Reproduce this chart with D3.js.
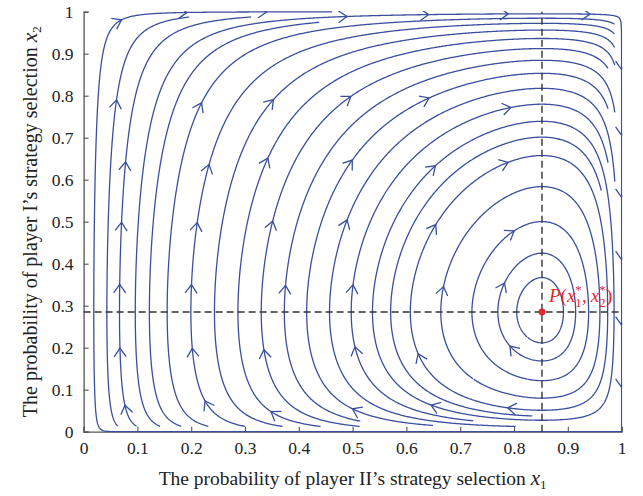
<!DOCTYPE html>
<html>
<head>
<meta charset="utf-8">
<script src="https://cdn.jsdelivr.net/npm/d3@7"></script>
<style>
  body { margin: 0; background: #fff; }
  svg { display: block; }
  .tick text { font-family: "Liberation Serif", "DejaVu Serif", serif; font-size: 17.5px; fill: #222; }
</style>
</head>
<body>
<svg id="chart" width="643" height="496"></svg>
<script>
// equilibrium point P(x1*, x2*) read from the dashed guides
var equilibrium = [0.852, 0.285];
// relative speed of the two strategy populations (x1, x2)
var rates = [0.5, 1.0];
var xTicks = [0, 0.1, 0.2, 0.3, 0.4, 0.5, 0.6, 0.7, 0.8, 0.9, 1];
var yTicks = [0, 0.1, 0.2, 0.3, 0.4, 0.5, 0.6, 0.7, 0.8, 0.9, 1];
// where the arrowheads sit: inner lattice, top edge, right edge
var arrowCols = [0.066, 0.21, 0.355, 0.5, 0.645, 0.79];
var arrowRows = [0.06, 0.2, 0.35, 0.5, 0.645, 0.79];
var topArrows = [0.06, 0.19, 0.34, 0.49, 0.64, 0.79, 0.94];
var rightArrows = [0.107, 0.254, 0.41, 0.556, 0.706, 0.861];
var seedCells = 20,   // streamline seed grid
	blockCells = 80;  // occupancy grid

var margin = {left: 83.6, top: 11.7, right: 21.4, bottom: 64.3},
	width = 643 - margin.left - margin.right,
	height = 496 - margin.top - margin.bottom;

var svg = d3.select("#chart");
var g = svg.append("g").attr("transform", "translate(" + margin.left + "," + margin.top + ")");

var x = d3.scaleLinear().domain([0, 1]).range([0, width]);
var y = d3.scaleLinear().domain([0, 1]).range([height, 0]);

svg.append("defs").append("clipPath").attr("id", "plotclip")
	.append("rect").attr("x", -0.7).attr("y", -0.7).attr("width", width + 1.4).attr("height", height + 1.4);

// replicator dynamics, direction only
function field(p) {
	var u = rates[0] * p[0] * (1 - p[0]) * (p[1] - equilibrium[1]),
		v = rates[1] * p[1] * (1 - p[1]) * (equilibrium[0] - p[0]);
	var m = Math.sqrt(u * u + v * v);
	if (m < 1e-300) return [0, 0];
	return [u / m, v / m];
}

function rk4(p, h) {
	var k1 = field(p);
	var k2 = field([p[0] + h / 2 * k1[0], p[1] + h / 2 * k1[1]]);
	var k3 = field([p[0] + h / 2 * k2[0], p[1] + h / 2 * k2[1]]);
	var k4 = field([p[0] + h * k3[0], p[1] + h * k3[1]]);
	return [p[0] + h / 6 * (k1[0] + 2 * k2[0] + 2 * k3[0] + k4[0]),
		p[1] + h / 6 * (k1[1] + 2 * k2[1] + 2 * k3[1] + k4[1])];
}

var startGrid = [], endGrid = [];
for (var i = 0; i < seedCells * seedCells; i++) startGrid.push(0);
for (var i = 0; i < blockCells * blockCells; i++) endGrid.push(0);

function cellOf(p, n) {
	var c = Math.min(n - 1, Math.floor(p[0] * n)),
		r = Math.min(n - 1, Math.floor(p[1] * n));
	return r * n + c;
}

var stepSize = 0.002, maxSteps = 4000;

function trace(seed, dir) {
	var pts = [seed], p = seed, prev = cellOf(seed, blockCells);
	for (var s = 0; s < maxSteps; s++) {
		p = rk4(p, dir * stepSize);
		if (p[0] < 0 || p[0] > 1 || p[1] < 0 || p[1] > 1 || isNaN(p[0])) break;
		var c = cellOf(p, blockCells);
		if (c != prev) {
			if (endGrid[c]) break;
			endGrid[c] = 1;
			prev = c;
		}
		startGrid[cellOf(p, seedCells)] = 1;
		pts.push(p);
	}
	return pts;
}

var streams = [];
for (var r = 0; r < seedCells; r++) {
	for (var c = 0; c < seedCells; c++) {
		if (startGrid[r * seedCells + c]) continue;
		startGrid[r * seedCells + c] = 1;
		var seed = [(c + 0.5) / seedCells, (r + 0.5) / seedCells];
		endGrid[cellOf(seed, blockCells)] = 1;
		var back = trace(seed, -1),
			fwd = trace(seed, 1);
		if (back.length + fwd.length < 4) continue;
		streams.push(back.slice().reverse().concat(fwd.slice(1)));
	}
}

var plot = g.append("g").attr("clip-path", "url(#plotclip)");
var blue = "#3a4f9e";

var line = d3.line().x(function(d) { return x(d[0]); }).y(function(d) { return y(d[1]); });

plot.selectAll("path.stream")
	.data(streams)
	.enter().append("path")
		.attr("class", "stream")
		.attr("fill", "none")
		.attr("stroke", blue)
		.attr("stroke-width", 1.3)
		.attr("d", line);

// snap each arrow spot onto the nearest streamline point
var targets = [];
arrowCols.forEach(function(cx) { arrowRows.forEach(function(cy) { targets.push([cx, cy]); }); });
topArrows.forEach(function(cx) { targets.push([cx, 1]); });
rightArrows.forEach(function(cy) { targets.push([1, cy]); });

var arrows = [];
targets.forEach(function(t) {
	var tx = x(t[0]), ty = y(t[1]), best = null, bd = Infinity;
	streams.forEach(function(s) {
		for (var k = 0; k < s.length; k += 2) {
			var d = Math.hypot(x(s[k][0]) - tx, y(s[k][1]) - ty);
			if (d < bd) { bd = d; best = s[k]; }
		}
	});
	if (best && bd < 22) arrows.push(best);
});

var arrowLen = 8.5, arrowHalf = 6;
plot.selectAll("path.arrow")
	.data(arrows)
	.enter().append("path")
		.attr("class", "arrow")
		.attr("fill", "none")
		.attr("stroke", blue)
		.attr("stroke-width", 1.3)
		.attr("d", function(p) {
			var f = field(p);
			var dx = f[0] * width, dy = -f[1] * height, m = Math.hypot(dx, dy);
			dx /= m; dy /= m;
			var tx = x(p[0]), ty = y(p[1]);
			var bx = tx - dx * arrowLen, by = ty - dy * arrowLen;
			return "M" + (bx - dy * arrowHalf) + "," + (by + dx * arrowHalf) +
				"L" + tx + "," + ty +
				"L" + (bx + dy * arrowHalf) + "," + (by - dx * arrowHalf);
		});

// axes
var xAxis = d3.axisBottom(x).tickValues(xTicks).tickFormat(d3.format("")).tickSize(-5).tickPadding(10);
var yAxis = d3.axisLeft(y).tickValues(yTicks).tickFormat(d3.format("")).tickSize(-5).tickPadding(10);

var gx = g.append("g").attr("transform", "translate(0," + height + ")").call(xAxis);
var gy = g.append("g").call(yAxis);
[gx, gy].forEach(function(a) {
	a.select(".domain").attr("stroke", "#555").attr("stroke-width", 1.3);
	a.selectAll(".tick line").attr("stroke", "#555").attr("stroke-width", 1.1);
});
gx.lower();
plot.raise();

// dashed guides through P
var guides = g.append("g").attr("stroke", "#333").attr("stroke-width", 1.4).attr("stroke-dasharray", "7,4");
guides.append("line")
	.attr("x1", x(0)).attr("x2", x(1))
	.attr("y1", y(equilibrium[1])).attr("y2", y(equilibrium[1]));
guides.append("line")
	.attr("x1", x(equilibrium[0])).attr("x2", x(equilibrium[0]))
	.attr("y1", y(0)).attr("y2", y(1));

var red = "#e8262b";
g.append("circle")
	.attr("cx", x(equilibrium[0])).attr("cy", y(equilibrium[1]))
	.attr("r", 3.4).attr("fill", red);

// label P(x1*, x2*) laid out piece by piece so sub/superscripts stack
var serif = "Liberation Serif, serif";
var lab = g.append("g").attr("fill", red).style("font-family", serif);
var cx = x(equilibrium[0]) + 7, base = y(equilibrium[1]) - 10;
function piece(txt, size, italic, dy) {
	var t = lab.append("text").attr("x", cx).attr("y", base + (dy || 0))
		.style("font-size", size + "px").style("font-style", italic ? "italic" : "normal").text(txt);
	return t.node().getComputedTextLength();
}
function stacked(sub) {
	var w1 = piece(sub, 12.5, false, 5), w2 = piece("*", 12.5, false, -8);
	cx += Math.max(w1, w2) + 0.5;
}
cx += piece("P", 19, true);
cx += piece("(", 19, false);
cx += piece("x", 19, true);
stacked("1");
cx += piece(",", 19, false) + 4;
cx += piece("x", 19, true);
stacked("2");
cx += piece(")", 19, false);

// axis titles
var xt = svg.append("text")
	.attr("x", margin.left + width / 2).attr("y", 485)
	.attr("text-anchor", "middle")
	.style("font-family", serif).style("font-size", "19.5px").attr("fill", "#222");
xt.append("tspan").text("The probability of player II\u2019s strategy selection ");
xt.append("tspan").style("font-style", "italic").style("font-size", "21px").text("x");
xt.append("tspan").attr("dy", 4).style("font-size", "13px").text("1");

var yt = svg.append("text")
	.attr("transform", "translate(37," + (margin.top + height / 2) + ") rotate(-90)")
	.attr("text-anchor", "middle")
	.style("font-family", serif).style("font-size", "20px").attr("fill", "#222");
yt.append("tspan").text("The probability of player I\u2019s strategy selection ");
yt.append("tspan").style("font-style", "italic").style("font-size", "21.5px").text("x");
yt.append("tspan").attr("dy", 4).style("font-size", "13px").text("2");
</script>
</body>
</html>
